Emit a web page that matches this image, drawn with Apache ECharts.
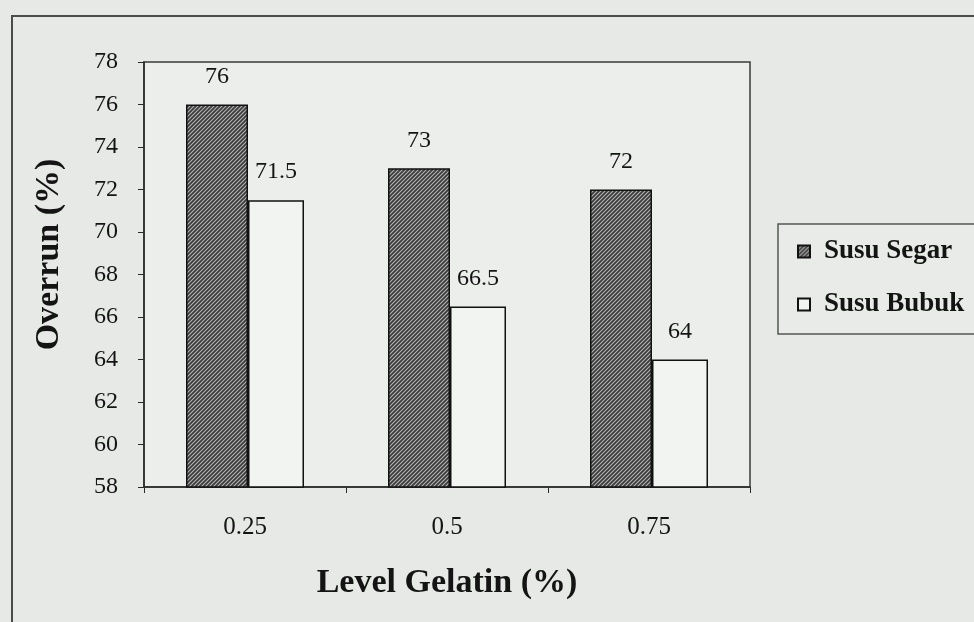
<!DOCTYPE html>
<html>
<head>
<meta charset="utf-8">
<script src="https://cdn.jsdelivr.net/npm/echarts@6/dist/echarts.min.js"></script>
<style>
  html, body { margin: 0; padding: 0; background: #e6e9e6; }
  #chart { width: 974px; height: 622px; }
</style>
</head>
<body>
<div id="chart"></div>
<script>
// Overrun by gelatin level for fresh vs powdered milk
const categories = ['0.25', '0.5', '0.75'];
const susuSegar = [76, 73, 72];
const susuBubuk = [71.5, 66.5, 64];
const seriesNames = ['Susu Segar', 'Susu Bubuk'];
const yTicks = { min: 58, max: 78, interval: 2 };

// Diagonal hatch fill for the dark bars
function hatch() {
  const s = 4;
  const c = document.createElement('canvas');
  c.width = s; c.height = s;
  const g = c.getContext('2d');
  g.fillStyle = '#3a3b3a';
  g.fillRect(0, 0, s, s);
  g.strokeStyle = '#b4b6b4';
  g.lineWidth = 1.1;
  g.beginPath();
  g.moveTo(0, s); g.lineTo(s, 0);
  g.moveTo(-s / 2, s / 2); g.lineTo(s / 2, -s / 2);
  g.moveTo(s / 2, s * 1.5); g.lineTo(s * 1.5, s / 2);
  g.stroke();
  return c;
}

const serif = '"Liberation Serif", "Times New Roman", serif';
const ink = '#141414';
const chart = echarts.init(document.getElementById('chart'));

const valueLabel = {
  show: true, position: 'top', distance: 16,
  fontFamily: serif, fontSize: 24, color: ink
};

chart.setOption({
  backgroundColor: '#e6e9e6',
  animation: false,
  graphic: [{
    type: 'rect',
    shape: { x: 12, y: 16, width: 990, height: 640 },
    style: { fill: 'none', stroke: '#4a4c4a', lineWidth: 2 },
    z: -1
  }],
  grid: {
    left: 144, right: 224, top: 62, bottom: 135,
    show: true, backgroundColor: '#eceeec',
    borderColor: '#3a3a3a', borderWidth: 1.5
  },
  legend: {
    orient: 'vertical',
    left: 778, top: 224,
    data: seriesNames,
    icon: 'rect',
    backgroundColor: '#e8ebe8',
    borderColor: '#555', borderWidth: 1.5,
    padding: [14, 30, 16, 19],
    itemGap: 26,
    itemWidth: 12, itemHeight: 12,
    textStyle: { fontFamily: serif, fontSize: 27, fontWeight: 'bold', color: ink, padding: [0, 0, 0, 9] }
  },
  xAxis: {
    type: 'category',
    data: categories,
    name: 'Level Gelatin (%)',
    nameLocation: 'middle',
    nameGap: 79,
    nameTextStyle: { fontFamily: serif, fontSize: 34, fontWeight: 'bold', color: ink },
    axisLine: { lineStyle: { color: '#2a2a2a', width: 1.5 } },
    axisTick: { show: true, length: 6, lineStyle: { color: '#2a2a2a' } },
    axisLabel: { fontFamily: serif, fontSize: 25, color: ink, margin: 28 }
  },
  yAxis: {
    type: 'value',
    min: yTicks.min, max: yTicks.max, interval: yTicks.interval,
    name: 'Overrun (%)',
    nameLocation: 'middle',
    nameGap: 78,
    nameTextStyle: { fontFamily: serif, fontSize: 34, fontWeight: 'bold', color: ink, padding: [0, 0, 0, 40] },
    axisLine: { show: true, lineStyle: { color: '#2a2a2a', width: 1.5 } },
    axisTick: { show: true, length: 6, lineStyle: { color: '#2a2a2a' } },
    splitLine: { show: false },
    axisLabel: { fontFamily: serif, fontSize: 24, color: ink, margin: 26 }
  },
  series: [
    {
      name: seriesNames[0],
      type: 'bar',
      data: susuSegar,
      barWidth: 62,
      barGap: '0%',
      itemStyle: { color: { image: hatch(), repeat: 'repeat' }, borderColor: '#111', borderWidth: 1.5 },
      label: valueLabel
    },
    {
      name: seriesNames[1],
      type: 'bar',
      data: susuBubuk,
      barWidth: 56,
      barGap: '0%',
      itemStyle: { color: '#f2f4f2', borderColor: '#111', borderWidth: 1.5 },
      label: valueLabel
    }
  ]
});
</script>
</body>
</html>
